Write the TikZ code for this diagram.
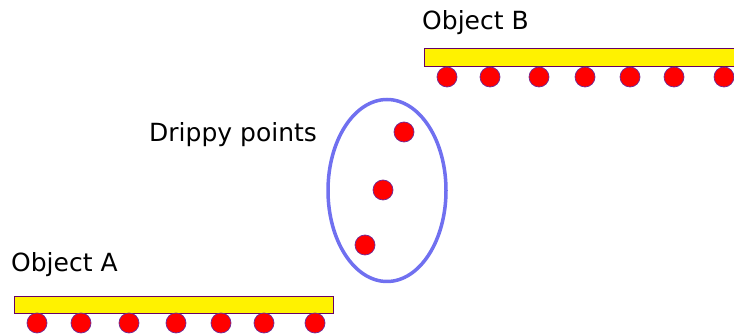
\documentclass[tikz,border=0pt]{standalone}
\usepackage{fontspec}
\setmainfont{DejaVu Sans}
\begin{document}
\begin{tikzpicture}[x=1pt,y=-1pt,
  bar/.style={draw=violet!80!black,fill=yellow,line width=0.8pt},
  pt/.style={circle,draw={rgb,255:red,110;green,40;blue,150},fill=red,line width=0.7pt,minimum size=20pt,inner sep=0pt},
  lbl/.style={anchor=base west,inner sep=0pt,font=\fontsize{25}{30}\selectfont}]
\useasboundingbox (0,0) rectangle (734,336);
\node[lbl] (la) at (11,272) {Object A};
\node[lbl] (lb) at (422,30) {Object B};
\node[lbl] (ld) at (149,142) {Drippy points};
\draw[bar] (14,296) rectangle (333,313);
\draw[bar] (424,48) rectangle (740,66);
\foreach \x [count=\i] in {37,81,129,176,221,264,315}
  \node[pt] (a\i) at (\x,323) {};
\foreach \x [count=\i] in {447,490,539,585,630,674,724}
  \node[pt] (b\i) at (\x,77) {};
\node[pt] (d1) at (404,132) {};
\node[pt] (d2) at (383,190) {};
\node[pt] (d3) at (365,245) {};
\draw[draw={rgb,255:red,112;green,112;blue,240},line width=3.5pt] (387,190.5) ellipse [x radius=59, y radius=91];
\end{tikzpicture}
\end{document}
